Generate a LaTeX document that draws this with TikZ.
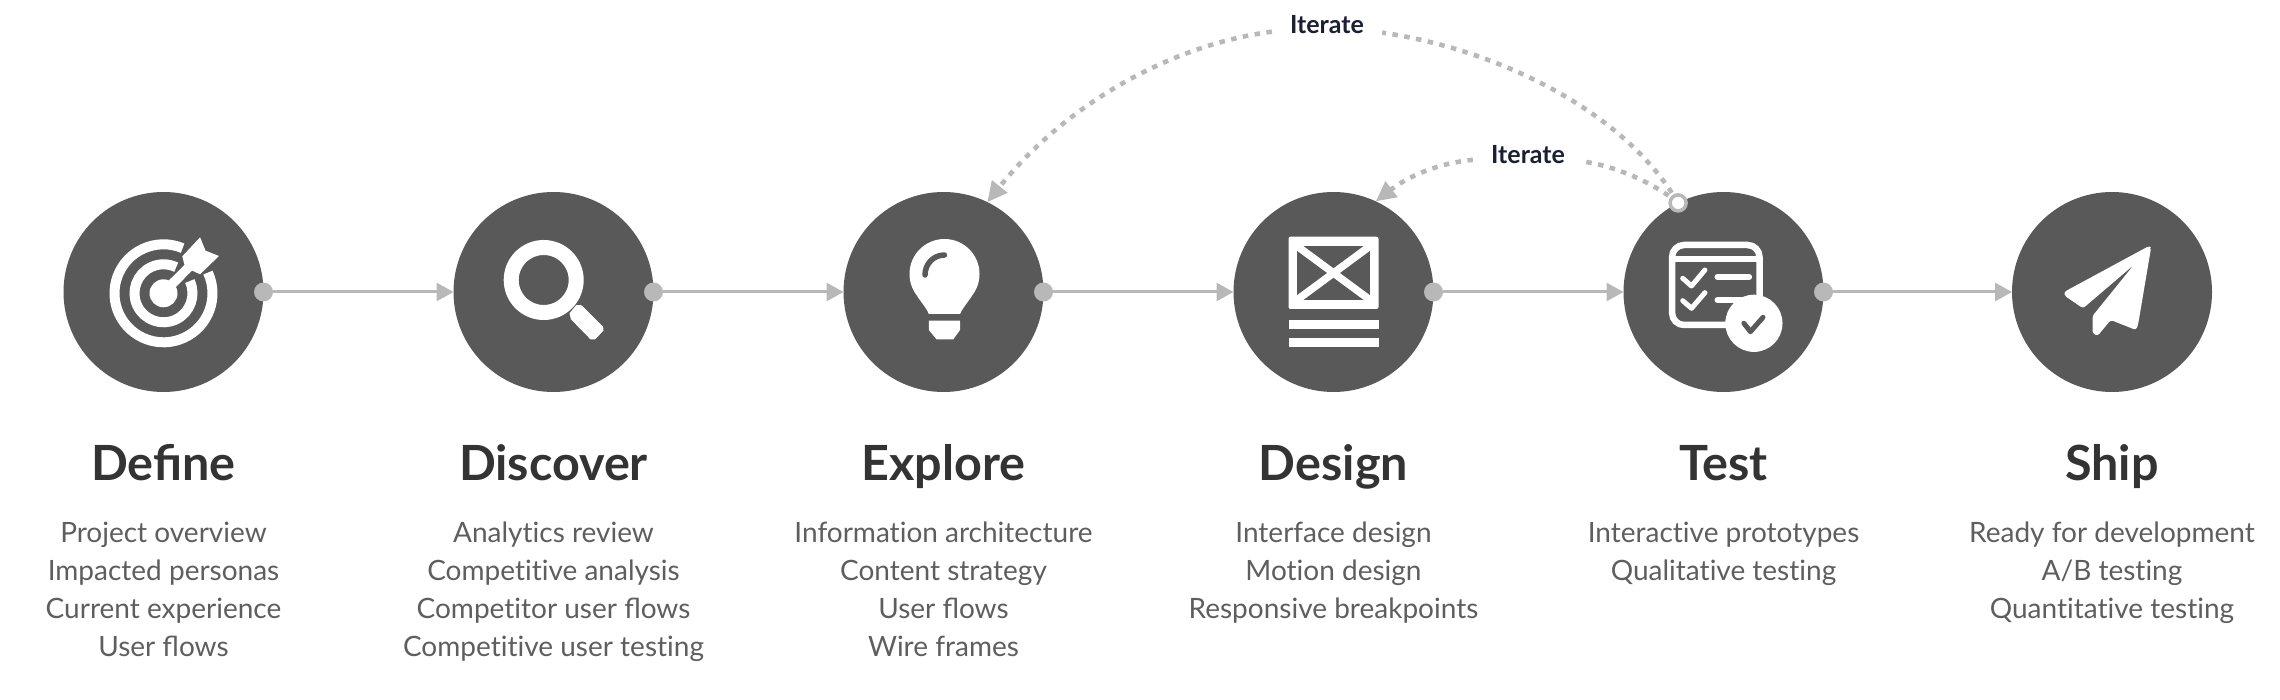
\documentclass[tikz,border=0pt]{standalone}
\usepackage{fontspec}
\setmainfont{Lato}
\usetikzlibrary{arrows.meta}
\definecolor{disc}{HTML}{595959}
\definecolor{conn}{HTML}{B8B8B8}
\definecolor{titlec}{HTML}{333333}
\definecolor{bodyc}{HTML}{5E5E5E}
\definecolor{iterc}{HTML}{1B1F33}
\newcommand{\nolig}{\kern0pt }
\tikzset{
  x=1pt,y=-1pt,
  stage/.style={circle,fill=disc,minimum size=200pt,inner sep=0pt,outer sep=0pt},
  port/.style={circle,fill=conn,minimum size=19pt,inner sep=0pt,outer sep=0pt},
  hollowport/.style={circle,draw=conn,line width=3.5pt,fill=white,minimum size=16pt,inner sep=0pt,outer sep=0pt},
  flow/.style={draw=conn,line width=3pt,-{Triangle[length=17pt,width=18pt]}},
  loopback/.style={draw=conn,line width=4.6pt,dash pattern=on 5.5pt off 6.5pt,-{Triangle[length=20pt,width=19pt]}},
  loopstart/.style={draw=conn,line width=4.6pt,dash pattern=on 5.5pt off 6.5pt},
  iterlabel/.style={font=\fontsize{25}{30}\selectfont\bfseries,text=iterc,inner xsep=18pt,inner ysep=3pt},
  stagetitle/.style={font=\fontsize{48.5}{56}\selectfont\bfseries,text=titlec,anchor=base},
  stagebody/.style={font=\fontsize{28}{37.8}\selectfont,text=bodyc,align=center,anchor=north,inner sep=0pt},
}
\begin{document}
\begin{tikzpicture}
\useasboundingbox (0,0) rectangle (2280,700);
% stages
\node[stage] (c1) at (163.5,292) {};
\node[stage] (c2) at (553.5,292) {};
\node[stage] (c3) at (943.5,292) {};
\node[stage] (c4) at (1333.5,292) {};
\node[stage] (c5) at (1723.5,292) {};
\node[stage] (c6) at (2112,292) {};
% ports
\node[port] (p1) at (c1.east) {};
\node[port] (p2) at (c2.east) {};
\node[port] (p3) at (c3.east) {};
\node[port] (p4) at (c4.east) {};
\node[port] (p5) at (c5.east) {};
% flow
\draw[flow] (p1) -- (c2.west);
\draw[flow] (p2) -- (c3.west);
\draw[flow] (p3) -- (c4.west);
\draw[flow] (p4) -- (c5.west);
\draw[flow] (p5) -- (c6.west);
% iterate loops
\node[iterlabel] (it1) at (1327,24.5) {Iterate};
\node[iterlabel] (it2) at (1528,154.5) {Iterate};
\coordinate (q0) at (c5.117);
\draw[loopstart] (q0) .. controls (1625,112) and (1500,50) .. (it1);
\draw[loopback] (it1) .. controls (1170,45) and (1065,105) .. (c3.64);
\draw[loopstart] (q0) .. controls (1650,180) and (1610,165) .. (it2);
\draw[loopback] (it2) .. controls (1440,163) and (1410,175) .. (c4.65);
\node[hollowport] (q) at (q0) {};
% target icon
\begin{scope}[shift={(c1.center)},yshift=-1.3pt,white]
  \draw[line width=10pt] (-25:49) arc[start angle=-25,end angle=293,radius=49];
  \draw[line width=10pt] (-25:29) arc[start angle=-25,end angle=296,radius=29];
  \fill (0,0) circle[radius=14];
  \fill (5.4,-13) -- (21,-28.3) -- (18.8,-37) -- (36.6,-56) -- (42,-42.7) -- (55.4,-37.3) -- (36.6,-19) -- (28.6,-22.7) -- (12,-6) -- cycle;
\end{scope}
% magnifier icon
\begin{scope}[shift={(c2.center)},white]
  \draw[line width=15pt] (-9.8,-12) circle[radius=32.5];
  \fill (22.8,13) -- (28.1,13.3) -- (49.6,34.7) -- (50,38.7) -- (41.5,47.3) -- (37,47.3) -- (17.4,27.3) -- (16,21.3) -- cycle;
\end{scope}
% bulb icon
\begin{scope}[shift={(c3.center)},white]
  \fill (1,-18) circle[radius=35];
  \fill (-26,4.7) .. controls (-20,13) and (-16,18) .. (-14.7,22) -- (16.5,22) .. controls (18,18) and (22,13) .. (28,4.7) -- (1,-18) -- cycle;
  \fill (-14.7,28.7) -- (16.5,28.7) -- (16.5,38) -- (9.8,47.3) -- (-7,47.3) -- (-14.7,38) -- cycle;
  \draw[disc,line width=5.5pt,line cap=round] (-18.5,-17) .. controls (-18.5,-28) and (-10,-37) .. (1,-37);
\end{scope}
% wireframe icon
\begin{scope}[shift={(c4.center)},white]
  \fill[rounded corners=2pt] (-45,-55.3) rectangle (45,17);
  \fill[disc] (-36.6,-46) rectangle (36.6,8);
  \draw[line width=7.5pt] (-36.6,-46) -- (36.6,8);
  \draw[line width=7.5pt] (36.6,-46) -- (-36.6,8);
  \fill (-45,28) rectangle (45,37);
  \fill (-45,46) rectangle (45,55);
\end{scope}
% checklist icon
\begin{scope}[shift={(c5.center)},white]
  \draw[line width=6.5pt,rounded corners=12pt] (-51.4,-47) rectangle (36,33);
  \fill (-54,-36) rectangle (38,-30.3);
  \draw[line width=5pt,line cap=round,line join=round] (-40.8,-13.7) -- (-32,-6) -- (-18.6,-22);
  \draw[line width=5pt,line cap=round,line join=round] (-40.8,8.7) -- (-32,16.3) -- (-18.6,0.7);
  \draw[line width=6pt,line cap=round] (-6,-15) -- (25.6,-15);
  \draw[line width=6pt,line cap=round] (-6,8) -- (20,8);
  \fill (30.4,31.3) circle[radius=28.6];
  \draw[disc,line width=5pt,line cap=round,line join=round] (20.4,31.3) -- (26.9,39.7) -- (39.5,25.3);
\end{scope}
% paper plane icon
\begin{scope}[shift={(c6.center)},white]
  \fill[rounded corners=2.5pt] (37,-46) -- (-48,0) -- (-47,4) -- (-29,16.3) -- (21.7,-27) -- (-19.5,24) -- (-19.5,41) -- (-14.5,44) -- (-1.3,28) -- (24,38) -- (26,33) -- (39,-44) -- cycle;
\end{scope}
% titles
\node[stagetitle] (t1) at (163.5,480) {Define};
\node[stagetitle] (t2) at (553.5,480) {Discover};
\node[stagetitle] (t3) at (943.5,480) {Explore};
\node[stagetitle] (t4) at (1333.5,480) {Design};
\node[stagetitle] (t5) at (1723.5,480) {Test};
\node[stagetitle] (t6) at (2112,480) {Ship};
% descriptions
\node[stagebody] (b1) at (163.5,522) {Project overview\\Impacted personas\\Current experience\\User flows};
\node[stagebody] (b2) at (553.5,522) {Analyt\nolig ics review\\Compet\nolig it\nolig ive analysis\\Compet\nolig itor user flows\\Compet\nolig it\nolig ive user test\nolig ing};
\node[stagebody] (b3) at (943.5,522) {Informat\nolig ion architecture\\Content strategy\\User flows\\Wire frames};
\node[stagebody] (b4) at (1333.5,522) {Interface design\\Mot\nolig ion design\\Responsive breakpoints};
\node[stagebody] (b5) at (1723.5,522) {Interact\nolig ive prototypes\\Qualitat\nolig ive test\nolig ing};
\node[stagebody] (b6) at (2112,522) {Ready for development\\A/B test\nolig ing\\Quant\nolig itat\nolig ive test\nolig ing};
\end{tikzpicture}
\end{document}
